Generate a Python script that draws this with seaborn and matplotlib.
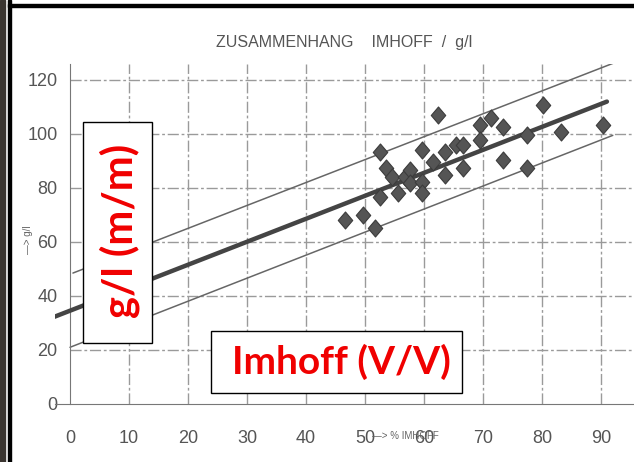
import matplotlib
matplotlib.use("Agg")
import matplotlib.pyplot as plt
from matplotlib.markers import MarkerStyle
from matplotlib.path import Path
from matplotlib.patches import Rectangle
import seaborn as sns

imhoff = [46.6, 49.7, 51.7, 52.5, 52.5, 53.6, 54.5, 55.6, 56.8, 57.6, 57.6,
          59.6, 59.6, 59.6, 61.5, 62.4, 63.5, 63.5, 65.5, 66.6, 66.6,
          69.5, 69.5, 71.4, 73.4, 73.4, 77.4, 77.4, 80.2, 83.3, 90.4]
gl = [68.1, 70.0, 65.1, 93.4, 76.8, 87.3, 84.2, 78.0, 84.0, 86.7, 81.7,
      94.1, 82.3, 78.0, 89.7, 107.0, 93.4, 84.8, 95.9, 95.9, 87.3,
      103.3, 97.8, 105.8, 102.7, 90.4, 99.6, 87.3, 110.7, 100.9, 103.3]

# regression line and band, end points
fit_x = [-3.0, 91.0]
fit_y = [32.0, 112.0]
upper_x = [0.5, 93.0]
upper_y = [48.5, 127.0]
lower_x = [0.0, 92.0]
lower_y = [21.0, 99.5]

x_ticks = [0, 10, 20, 30, 40, 50, 60, 70, 80, 90]
y_ticks = [0, 20, 40, 60, 80, 100, 120]

sns.set_style("white")
plt.rcParams['font.family'] = ['Liberation Sans', 'DejaVu Sans']

W, H = 634, 462
fig = plt.figure(figsize=(6.34, 4.62), dpi=100)

x0_px, px_per_x = 70, 5.9
px_per_y = 2.7
ax = fig.add_axes([(x0_px - 2.5 * px_per_x) / W, 58 / H,
                   98.5 * px_per_x / W, 126 * px_per_y / H])
ax.set_xlim(-2.5, 96)
ax.set_ylim(0, 126)

# grid of the paper chart
for gx in x_ticks[1:]:
    ax.plot([gx, gx], [0, 126], color="#9a9a9a", lw=1.0, dashes=(8, 2, 2, 2), zorder=1)
for gy in y_ticks[1:]:
    ax.plot([0, 96], [gy, gy], color="#9a9a9a", lw=1.0, dashes=(8, 2, 2, 2), zorder=1)

sns.lineplot(x=upper_x, y=upper_y, ax=ax, color="#666666", lw=1.1, zorder=2)
sns.lineplot(x=lower_x, y=lower_y, ax=ax, color="#666666", lw=1.1, zorder=2)
sns.lineplot(x=fit_x, y=fit_y, ax=ax, color="#444444", lw=3.2, zorder=3)

diamond = MarkerStyle(Path([(0, 1), (0.85, 0), (0, -1), (-0.85, 0), (0, 1)],
                           [Path.MOVETO, Path.LINETO, Path.LINETO, Path.LINETO, Path.CLOSEPOLY]))
sns.scatterplot(x=imhoff, y=gl, ax=ax, marker=diamond, s=150,
                color="#555555", edgecolor="#3c3c3c", linewidth=0.8, zorder=4)

for side in ["top", "right"]:
    ax.spines[side].set_visible(False)
ax.spines["left"].set_position(("data", 0))
ax.spines["left"].set_color("#777777")
ax.spines["bottom"].set_color("#777777")
ax.set_xticks(x_ticks)
ax.set_yticks(y_ticks)
ax.set_xticks(range(0, 96), minor=True)
ax.set_yticks(range(0, 126, 2), minor=True)
ax.tick_params(axis="both", which="major", direction="in", length=8, color="#777777",
               labelsize=13, labelcolor="#555555")
ax.tick_params(axis="both", which="minor", direction="in", length=3, color="#999999")
ax.tick_params(axis="x", which="major", pad=19)
ax.tick_params(axis="y", which="major", pad=9)
ax.set_xlabel("")
ax.set_ylabel("")

fig.text(344 / W, 1 - 43 / H, "ZUSAMMENHANG    IMHOFF  /  g/l", ha="center", va="center",
         fontsize=11.5, color="#555555")
fig.text(28 / W, 1 - 240 / H, "—> g/l", rotation=90, ha="center", va="center",
         fontsize=7, color="#666666")
fig.text(372 / W, 1 - 436 / H, "—> % IMHOFF", ha="left", va="center",
         fontsize=7, color="#666666")

# scan frame on the left and top
fig.add_artist(Rectangle((0, 0), 5 / W, 1, transform=fig.transFigure, color="#3a3530"))
fig.add_artist(Rectangle((8 / W, 0), 3 / W, 1, transform=fig.transFigure, color="black"))
fig.add_artist(Rectangle((8 / W, 1 - 7 / H), 1, 3 / H, transform=fig.transFigure, color="black"))

# red label boxes pasted over the chart
fig.add_artist(Rectangle((83 / W, 1 - 343 / H), 69 / W, 221 / H, transform=fig.transFigure,
                         facecolor="white", edgecolor="black", lw=1))
fig.text(120 / W, 1 - 231 / H, "g/l (m/m)", rotation=90, ha="center", va="center",
         fontsize=30, fontweight="bold", color="#f00000", family=["Lato", "DejaVu Sans"])
fig.add_artist(Rectangle((211 / W, 1 - 393 / H), 251 / W, 62 / H, transform=fig.transFigure,
                         facecolor="white", edgecolor="black", lw=1))
fig.text(341 / W, 1 - 362 / H, "Imhoff (V/V)", ha="center", va="center",
         fontsize=28, fontweight="bold", color="#f00000", family=["Lato", "DejaVu Sans"])

fig.savefig("out.png", dpi=100)
